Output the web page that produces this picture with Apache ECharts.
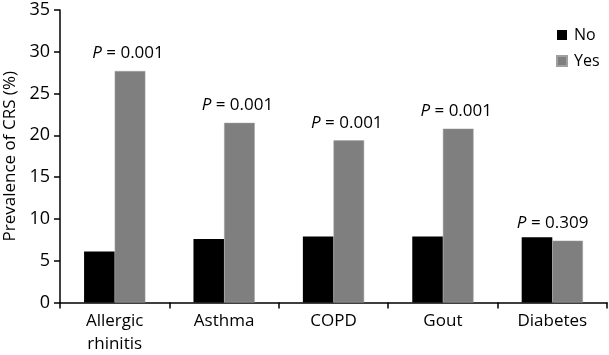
<!DOCTYPE html>
<html><head><meta charset="utf-8">
<script src="https://cdn.jsdelivr.net/npm/echarts@6/dist/echarts.min.js"></script>
<style>html,body{margin:0;padding:0;background:#fff}#c{width:609px;height:355px}</style>
</head><body><div id="c"></div>
<script>
const categories = ['Allergic\nrhinitis', 'Asthma', 'COPD', 'Gout', 'Diabetes'];
const noValues = [6.1, 7.6, 7.9, 7.9, 7.8];
const yesValues = [27.7, 21.5, 19.4, 20.8, 7.4];
const pValues = ['0.001', '0.001', '0.001', '0.001', '0.309'];
const yTicks = [0, 5, 10, 15, 20, 25, 30, 35];
const FONT = 'Open Sans';

const chart = echarts.init(document.getElementById('c'));
const yesData = yesValues.map((v, i) => {
  const item = { value: v };
  if (i === 4) {
    item.label = { offset: [-15, 0] };
  }
  return item;
});
chart.setOption({
  animation: false,
  textStyle: { fontFamily: FONT },
  grid: { left: 60, right: 2, top: 10, bottom: 52.5, containLabel: false, outerBoundsMode: 'none' },
  legend: {
    orient: 'vertical', left: 551, top: 22, itemWidth: 10, itemHeight: 10, itemGap: 10,
    icon: 'rect',
    textStyle: { fontFamily: FONT, fontSize: 16, color: '#000', padding: [0, 0, 0, 2] },
    data: ['No', 'Yes']
  },
  xAxis: {
    type: 'category', data: categories,
    axisLine: { lineStyle: { color: '#000', width: 1.5 } },
    axisTick: { show: true, length: 6, lineStyle: { color: '#000', width: 1.5 } },
    axisLabel: { color: '#000', fontSize: 17, margin: 7, lineHeight: 23, fontFamily: FONT }
  },
  yAxis: {
    type: 'value', min: 0, max: 35, interval: 5,
    name: 'Prevalence of CRS (%)', nameLocation: 'middle', nameGap: 41,
    nameTextStyle: { color: '#000', fontSize: 17, fontFamily: FONT },
    splitLine: { show: false },
    axisLine: { show: true, lineStyle: { color: '#000', width: 1.5 } },
    axisTick: { show: true, length: 6, lineStyle: { color: '#000', width: 1.5 } },
    axisLabel: { color: '#000', fontSize: 18, margin: 10, fontFamily: FONT,
      formatter: v => yTicks.includes(v) ? String(v) : '' }
  },
  series: [
    { name: 'No', type: 'bar', data: noValues, barWidth: '28%', barGap: '0%',
      itemStyle: { color: '#000' } },
    { name: 'Yes', type: 'bar', data: yesData, barWidth: '28%',
      itemStyle: { color: '#7f7f7f', borderColor: '#a0a0a0', borderWidth: 0.5 },
      label: {
        show: true, position: 'top', distance: 9, offset: [-2, 0],
        formatter: p => '{i|P} = ' + pValues[p.dataIndex],
        rich: {
          i: { fontStyle: 'italic', fontSize: 17, color: '#000', fontFamily: FONT }
        },
        fontSize: 17, color: '#000', fontFamily: FONT
      } }
  ]
});
</script></body></html>
